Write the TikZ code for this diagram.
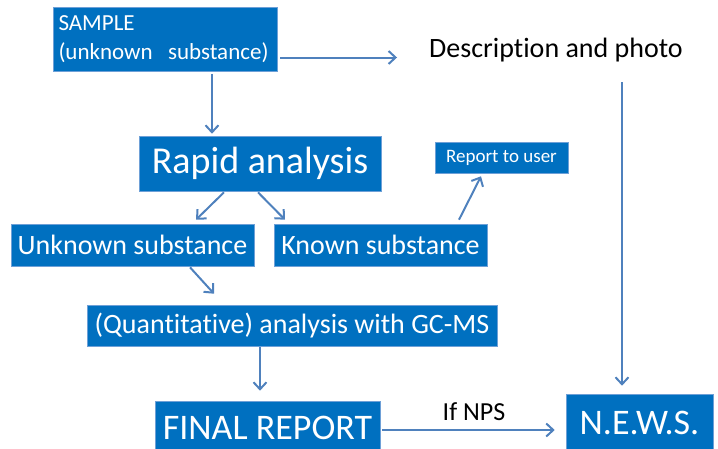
\documentclass[tikz,border=0pt]{standalone}
\usepackage{fontspec}
\setmainfont{Carlito}[Ligatures={NoCommon}]
\usetikzlibrary{arrows.meta}
\definecolor{boxblue}{RGB}{0,112,192}
\definecolor{arrowblue}{RGB}{79,129,189}
\definecolor{edgeblue}{RGB}{110,160,215}

\begin{document}
\begin{tikzpicture}[
    x=1pt, y=-1pt,
    box/.style={rectangle, draw=edgeblue, line width=0.6pt, fill=boxblue, text=white, inner sep=0pt, align=center},
    arrow/.style={-{Straight Barb[length=7pt,width=13pt]}, draw=arrowblue, line width=2pt},
    plain/.style={inner sep=0pt, text=black}
]
\useasboundingbox (0,0) rectangle (718,448);

% Top row
\node[box, align=left, text width=213pt, inner xsep=5.5pt, minimum height=64pt,
      font={\fontsize{23}{29}\selectfont}] (sample) at (165,39.5) {SAMPLE\\(unknown\ \ substance)};
\node[plain, font={\fontsize{28}{34}\selectfont}] (desc) at (556,50) {Description and photo};

% Rapid analysis and its results
\node[box, minimum width=242pt, minimum height=55pt, font={\fontsize{38}{44}\selectfont}] (rapid) at (260,163.5) {Rapid analysis};
\node[box, minimum width=133pt, minimum height=31pt, font={\fontsize{19}{23}\selectfont}] (report) at (501.5,157.5) {Report to user};
\node[box, minimum width=243pt, minimum height=42pt, font={\fontsize{28}{34}\selectfont}] (unknown) at (132.5,245) {Unknown substance};
\node[box, minimum width=213pt, minimum height=42pt, font={\fontsize{28}{34}\selectfont}] (known) at (380.5,245) {Known substance};

% GC-MS and outputs
\node[box, minimum width=410pt, minimum height=41pt, font={\fontsize{28}{34}\selectfont}] (quant) at (292,325.5) {(Quantitative) analysis with GC-MS};
\node[box, minimum width=225pt, minimum height=54pt, font={\fontsize{36}{42}\selectfont}] (final) at (267.5,428) {FINAL REPORT};
\node[box, minimum width=147pt, minimum height=57pt, font={\fontsize{36}{42}\selectfont}] (news) at (639.5,422.5) {N.E.W.S.};

% Arrows
\draw[arrow] ([xshift=3pt,yshift=-18pt]sample.east) -- ([yshift=-18pt]sample.east -| desc.west) [shorten >=32pt];
\draw[arrow, shorten <=20pt, shorten >=8pt] ([xshift=66pt]desc.south) -- ([xshift=66pt]desc.south |- news.north);
\draw[arrow, shorten <=2pt, shorten >=2pt] ([xshift=47pt]sample.south) -- ([xshift=47pt]sample.south |- rapid.north);
\draw[arrow] ([xshift=-36pt,yshift=-1pt]rapid.south) -- ([xshift=63.5pt,yshift=4pt]unknown.north);
\draw[arrow] ([xshift=-2pt,yshift=-1pt]rapid.south) -- ([xshift=-95.5pt,yshift=4pt]known.north);
\draw[arrow] ([xshift=78.5pt,yshift=4pt]known.north) -- ([xshift=-20.5pt,yshift=-3pt]report.south);
\draw[arrow] ([xshift=57.5pt,yshift=-1pt]unknown.south) -- ([xshift=-78pt,yshift=11pt]quant.north);
\draw[arrow, shorten <=1pt, shorten >=10pt] ([xshift=-32pt]quant.south) -- ([xshift=-32pt]quant.south |- final.north);
\draw[arrow] ([xshift=2pt,yshift=-2pt]final.east) -- ([yshift=-2pt]final.east -| news.west) [shorten >=11pt]
    node[midway, above=5pt, text=black, font={\fontsize{26}{30}\selectfont}] (ifnps) {If NPS};

\end{tikzpicture}
\end{document}
